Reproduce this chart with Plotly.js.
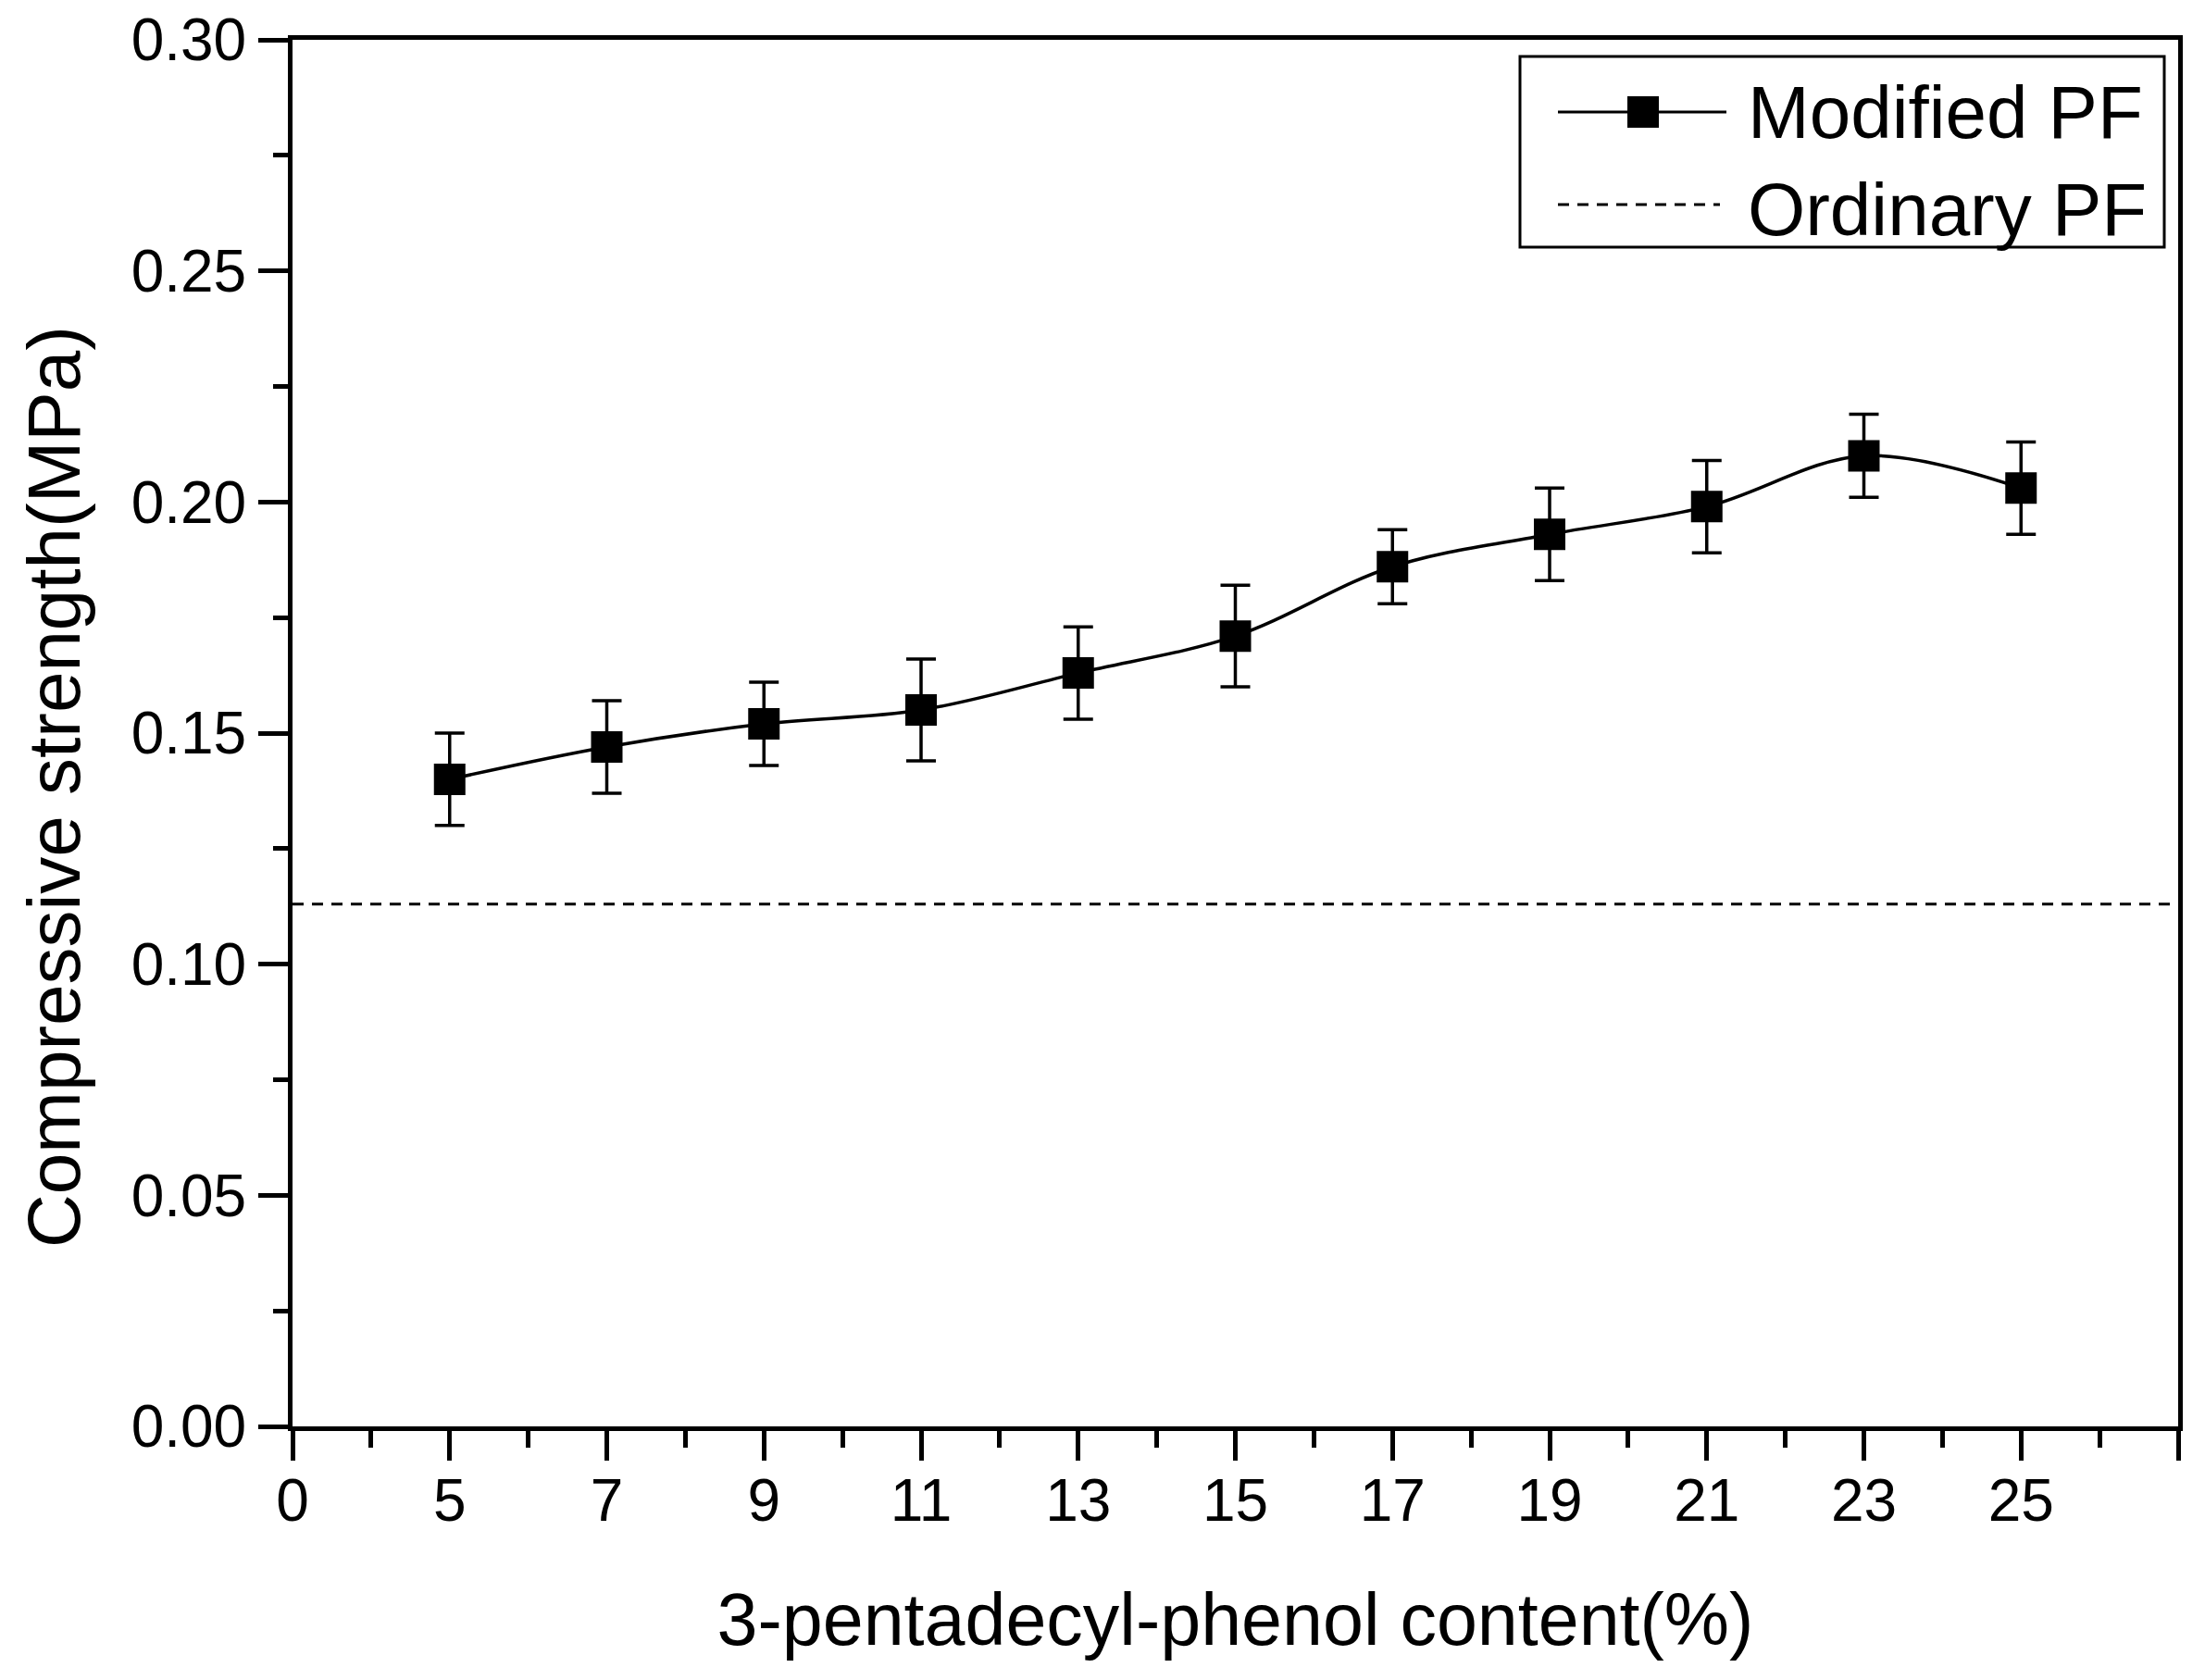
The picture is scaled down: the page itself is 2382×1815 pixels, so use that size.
<!DOCTYPE html>
<html><head><meta charset="utf-8">
<script src="https://cdn.plot.ly/plotly-3.0.1.min.js"></script>
<style>html,body{margin:0;padding:0;background:#fff}</style>
</head><body><div id="chart" style="width:2382px;height:1815px"></div>
<script>
// ---- data ----
const content = [5, 7, 9, 11, 13, 15, 17, 19, 21, 23, 25];
const strength = [0.140, 0.147, 0.152, 0.155, 0.163, 0.171, 0.186, 0.193, 0.199, 0.210, 0.203];
const strengthErr = [0.010, 0.010, 0.009, 0.011, 0.010, 0.011, 0.008, 0.010, 0.010, 0.009, 0.010];
const ordinaryX = [3, 27];
const ordinaryY = [0.113, 0.113];
const xTickVals = [3, 5, 7, 9, 11, 13, 15, 17, 19, 21, 23, 25, 27];
const xTickText = ['0', '5', '7', '9', '11', '13', '15', '17', '19', '21', '23', '25', ''];
const seriesNames = ['Modified PF', 'Ordinary PF'];
const xTitle = '3-pentadecyl-phenol content(%)';
const yTitle = 'Compressive strength(MPa)';

// ---- layout geometry ----
const W = 2382, H = 1815;
const L = 316, R = 2353, T = 43, B = 1541;
const px = v => (v - L) / (R - L);
const py = v => (B - v) / (B - T);
const FONT = 'Liberation Sans, Arial, Helvetica, sans-serif';

const traces = [
  {
    x: content, y: strength, name: seriesNames[0], type: 'scatter', mode: 'lines+markers',
    line: {color: '#000', width: 3.5, shape: 'spline', smoothing: 1},
    marker: {symbol: 'square', size: 34, color: '#000'},
    error_y: {type: 'data', array: strengthErr, visible: true, color: '#000', thickness: 3.5, width: 16},
    showlegend: false
  },
  {
    x: ordinaryX, y: ordinaryY, name: seriesNames[1], type: 'scatter', mode: 'lines',
    line: {color: '#000', width: 3, dash: '12px,9px'},
    showlegend: false
  }
];

const shapes = [
  {type: 'rect', xref: 'paper', yref: 'paper', x0: px(1642), x1: px(2338), y0: py(267), y1: py(61),
   line: {color: '#000', width: 3}, fillcolor: '#fff', layer: 'above'},
  {type: 'line', xref: 'paper', yref: 'paper', x0: px(1683), x1: px(1865), y0: py(121), y1: py(121),
   line: {color: '#000', width: 3}},
  {type: 'rect', xref: 'paper', yref: 'paper', x0: px(1758), x1: px(1792), y0: py(138), y1: py(104),
   line: {width: 0}, fillcolor: '#000'},
  {type: 'line', xref: 'paper', yref: 'paper', x0: px(1683), x1: px(1858), y0: py(221), y1: py(221),
   line: {color: '#000', width: 3, dash: '12px,9px'}}
];

const annotations = [
  {text: seriesNames[0], xref: 'paper', yref: 'paper', x: px(1886), y: py(122), xanchor: 'left', yanchor: 'middle',
   showarrow: false, font: {family: FONT, size: 80, color: '#000'}},
  {text: seriesNames[1], xref: 'paper', yref: 'paper', x: px(1886), y: py(226), xanchor: 'left', yanchor: 'middle',
   showarrow: false, font: {family: FONT, size: 80, color: '#000'}},
  {text: yTitle, xref: 'paper', yref: 'paper', x: px(58), y: py(850), xanchor: 'center', yanchor: 'middle',
   textangle: -90, showarrow: false, font: {family: FONT, size: 80, color: '#000'}}
];

const layout = {
  width: W, height: H,
  margin: {l: L, r: W - R, t: T, b: H - B, pad: 0},
  paper_bgcolor: '#fff', plot_bgcolor: '#fff',
  font: {family: FONT, color: '#000'},
  showlegend: false,
  xaxis: {
    range: [3, 27], tickmode: 'array', tickvals: xTickVals, ticktext: xTickText,
    ticks: 'outside', ticklen: 32, tickwidth: 5, tickcolor: '#000', ticklabelstandoff: -12,
    showline: true, linewidth: 5, linecolor: '#000', mirror: true,
    showgrid: false, zeroline: false,
    tickfont: {family: FONT, size: 64, color: '#000'},
    minor: {tickmode: 'linear', tick0: 4, dtick: 2, ticks: 'outside', ticklen: 18, tickwidth: 5, tickcolor: '#000', showgrid: false},
    title: {text: xTitle, font: {family: FONT, size: 79, color: '#000'}, standoff: 67}
  },
  yaxis: {
    range: [0, 0.30], tickmode: 'linear', tick0: 0, dtick: 0.05, tickformat: '.2f',
    ticks: 'outside', ticklen: 32, tickwidth: 5, tickcolor: '#000',
    showline: true, linewidth: 5, linecolor: '#000', mirror: true,
    showgrid: false, zeroline: false,
    tickfont: {family: FONT, size: 64, color: '#000'},
    minor: {tickmode: 'linear', tick0: 0.025, dtick: 0.05, ticks: 'outside', ticklen: 16, tickwidth: 5, tickcolor: '#000', showgrid: false}
  },
  shapes: shapes,
  annotations: annotations
};

Plotly.newPlot('chart', traces, layout, {displayModeBar: false, staticPlot: true});
</script>
</body></html>
